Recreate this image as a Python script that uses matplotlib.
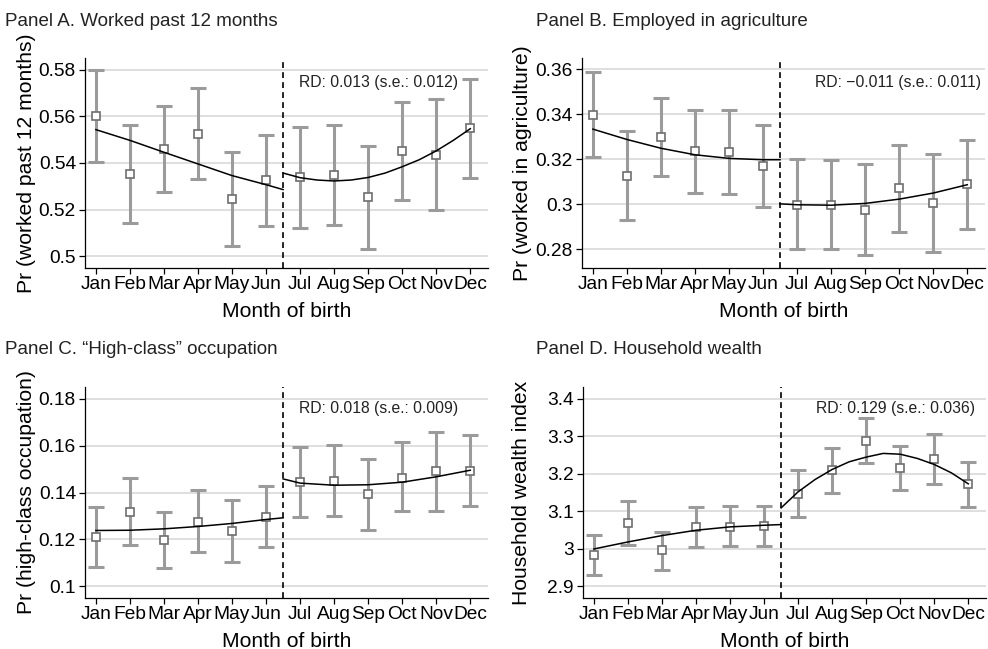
import numpy as np
import matplotlib
matplotlib.use("Agg")
import matplotlib.pyplot as plt

plt.rcParams['font.family'] = ['Liberation Sans', 'DejaVu Sans']

months = ["Jan", "Feb", "Mar", "Apr", "May", "Jun",
          "Jul", "Aug", "Sep", "Oct", "Nov", "Dec"]
month_num = np.arange(1, 13)
cutoff = 6.5

# Panel A. worked past 12 months
a_mean = [0.5603, 0.5353, 0.5460, 0.5524, 0.5246, 0.5326,
          0.5339, 0.5349, 0.5254, 0.5451, 0.5436, 0.5550]
a_hi = [0.5800, 0.5563, 0.5646, 0.5721, 0.5447, 0.5520,
        0.5554, 0.5561, 0.5473, 0.5661, 0.5676, 0.5760]
a_lo = [0.5403, 0.5144, 0.5276, 0.5333, 0.5046, 0.5131,
        0.5123, 0.5136, 0.5031, 0.5243, 0.5199, 0.5337]
a_fit_x_left = [1, 2, 3, 4, 5, 6, 6.5]
a_fit_left = [0.5543, 0.5497, 0.5446, 0.5396, 0.5346, 0.5307, 0.5286]
a_fit_x_right = [6.5, 7, 7.5, 8, 8.5, 9, 9.5, 10, 10.5, 11, 11.5, 12]
a_fit_right = [0.5357, 0.5337, 0.5327, 0.5323, 0.5327, 0.5338, 0.5357,
               0.5384, 0.5414, 0.5452, 0.5497, 0.5547]

# Panel B. employed in agriculture
b_mean = [0.3397, 0.3126, 0.3298, 0.3236, 0.3231, 0.3167,
          0.2997, 0.2997, 0.2973, 0.3070, 0.3004, 0.3087]
b_hi = [0.3588, 0.3323, 0.3471, 0.3416, 0.3416, 0.3350,
        0.3200, 0.3196, 0.3178, 0.3262, 0.3222, 0.3286]
b_lo = [0.3209, 0.2929, 0.3124, 0.3049, 0.3044, 0.2987,
        0.2800, 0.2800, 0.2775, 0.2876, 0.2787, 0.2889]
b_fit_x_left = [1, 2, 3, 4, 5, 6, 6.5]
b_fit_left = [0.3333, 0.3287, 0.3248, 0.3219, 0.3203, 0.3197, 0.3197]
b_fit_x_right = [6.5, 7, 8, 9, 10, 11, 12]
b_fit_right = [0.3001, 0.2997, 0.2995, 0.3003, 0.3022, 0.3049, 0.3086]

# Panel C. "high-class" occupation
c_mean = [0.1209, 0.1316, 0.1198, 0.1276, 0.1235, 0.1295,
          0.1443, 0.1448, 0.1394, 0.1463, 0.1491, 0.1491]
c_hi = [0.1340, 0.1460, 0.1317, 0.1410, 0.1367, 0.1427,
        0.1595, 0.1602, 0.1545, 0.1615, 0.1659, 0.1645]
c_lo = [0.1084, 0.1175, 0.1080, 0.1148, 0.1105, 0.1167,
        0.1295, 0.1299, 0.1242, 0.1319, 0.1320, 0.1342]
c_fit_x_left = [1, 2, 3, 4, 5, 6, 6.5]
c_fit_left = [0.1238, 0.1239, 0.1245, 0.1255, 0.1268, 0.1285, 0.1292]
c_fit_x_right = [6.5, 7, 8, 9, 10, 11, 12]
c_fit_right = [0.1458, 0.1440, 0.1431, 0.1433, 0.1444, 0.1467, 0.1495]

# Panel D. household wealth
d_mean = [2.9845, 3.0682, 2.9961, 3.0584, 3.0592, 3.0610,
          3.1464, 3.2087, 3.2861, 3.2141, 3.2390, 3.1714]
d_hi = [3.0379, 3.1269, 3.0459, 3.1109, 3.1153, 3.1153,
        3.2096, 3.2683, 3.3475, 3.2737, 3.3066, 3.2319]
d_lo = [2.9294, 3.0094, 2.9436, 3.0041, 3.0068, 3.0068,
        3.0859, 3.1500, 3.2274, 3.1562, 3.1714, 3.1117]
d_fit_x_left = [1, 2, 3, 4, 5, 6, 6.5]
d_fit_left = [2.9996, 3.0183, 3.0352, 3.0495, 3.0584, 3.0628, 3.0646]
d_fit_x_right = [6.5, 7, 7.5, 8, 8.5, 9, 9.5, 10, 10.5, 11, 11.5, 12]
d_fit_right = [3.1090, 3.1518, 3.1847, 3.2114, 3.2318, 3.2443, 3.2541,
               3.2520, 3.2408, 3.2247, 3.2025, 3.1731]

panels = [
    dict(title="Panel A. Worked past 12 months",
         ylabel="Pr (worked past 12 months)",
         rd="RD: 0.013 (s.e.: 0.012)", rd_xy=(6.96, 0.5743),
         mean=a_mean, hi=a_hi, lo=a_lo,
         fl=(a_fit_x_left, a_fit_left), fr=(a_fit_x_right, a_fit_right),
         yticks=[0.5, 0.52, 0.54, 0.56, 0.58],
         yticklabels=["0.5", "0.52", "0.54", "0.56", "0.58"],
         ylim=(0.495, 0.585)),
    dict(title="Panel B. Employed in agriculture",
         ylabel="Pr (worked in agriculture)",
         rd="RD: \u22120.011 (s.e.: 0.011)", rd_xy=(7.52, 0.3538),
         mean=b_mean, hi=b_hi, lo=b_lo,
         fl=(b_fit_x_left, b_fit_left), fr=(b_fit_x_right, b_fit_right),
         yticks=[0.28, 0.30, 0.32, 0.34, 0.36],
         yticklabels=["0.28", "0.3", "0.32", "0.34", "0.36"],
         ylim=(0.2716, 0.3649)),
    dict(title="Panel C. \u201cHigh-class\u201d occupation",
         ylabel="Pr (high-class occupation)",
         rd="RD: 0.018 (s.e.: 0.009)", rd_xy=(6.96, 0.1759),
         mean=c_mean, hi=c_hi, lo=c_lo,
         fl=(c_fit_x_left, c_fit_left), fr=(c_fit_x_right, c_fit_right),
         yticks=[0.10, 0.12, 0.14, 0.16, 0.18],
         yticklabels=["0.1", "0.12", "0.14", "0.16", "0.18"],
         ylim=(0.095, 0.185)),
    dict(title="Panel D. Household wealth",
         ylabel="Household wealth index",
         rd="RD: 0.129 (s.e.: 0.036)", rd_xy=(7.52, 3.374),
         mean=d_mean, hi=d_hi, lo=d_lo,
         fl=(d_fit_x_left, d_fit_left), fr=(d_fit_x_right, d_fit_right),
         yticks=[2.9, 3.0, 3.1, 3.2, 3.3, 3.4],
         yticklabels=["2.9", "3", "3.1", "3.2", "3.3", "3.4"],
         ylim=(2.869, 3.431)),
]

W, H = 988, 649
fig = plt.figure(figsize=(W / 100, H / 100), dpi=100)

# axes boxes in pixels: left, top, right, bottom
boxes = [(85, 58, 488, 268), (582, 58, 985, 268),
         (85, 387, 488, 598), (583, 387, 986, 598)]
title_pos = [(5, 21), (536, 21), (5, 350), (536, 350)]
ylab_x = [-0.122, -0.124, -0.122, -0.129]

grey_bar = "#9b9b9b"
grey_mk = "#6e6e6e"

for p, (l, t, r, b), (tx, ty), yx in zip(panels, boxes, title_pos, ylab_x):
    ax = fig.add_axes([l / W, 1 - b / H, (r - l) / W, (b - t) / H])
    m = np.array(p["mean"])
    err = [m - np.array(p["lo"]), np.array(p["hi"]) - m]
    ax.errorbar(month_num, m, yerr=err, fmt="none", ecolor=grey_bar,
                elinewidth=2.2, capsize=5.8, capthick=2.2, zorder=3)
    ax.plot(month_num, m, "s", ms=6.2, mfc="white", mec=grey_mk,
            mew=1.2, zorder=4)
    ax.plot(p["fl"][0], p["fl"][1], color="black", lw=1.1, zorder=5)
    ax.plot(p["fr"][0], p["fr"][1], color="black", lw=1.1, zorder=5)
    ax.axvline(cutoff, color="black", lw=1.2, ls=(0, (3.5, 2.5)), zorder=6)

    ax.set_xlim(0.68, 12.52)
    ax.set_ylim(*p["ylim"])
    ax.set_xticks(month_num)
    ax.set_xticklabels(months)
    ax.set_yticks(p["yticks"])
    ax.set_yticklabels(p["yticklabels"])
    ax.yaxis.grid(True, color="#d6d6d6", lw=1.1)
    ax.set_axisbelow(True)
    for s in ["top", "right"]:
        ax.spines[s].set_visible(False)
    for s in ["left", "bottom"]:
        ax.spines[s].set_linewidth(0.9)
    ax.tick_params(axis="both", direction="out", length=4.5, width=0.9,
                   labelsize=13.8, colors="black", pad=2)
    ax.tick_params(axis="x", pad=1.5)
    ax.set_xlabel("Month of birth", fontsize=15.2, labelpad=6)
    ax.set_ylabel(p["ylabel"], fontsize=15.2)
    ax.yaxis.set_label_coords(yx, 0.5)
    ax.text(p["rd_xy"][0], p["rd_xy"][1], p["rd"], fontsize=11.3,
            ha="left", va="center", color="#222222", zorder=7)

    fig.text(tx / W, 1 - ty / H, p["title"], fontsize=13.5,
             ha="left", va="center", color="#222222")

fig.savefig("out.png", dpi=100)
